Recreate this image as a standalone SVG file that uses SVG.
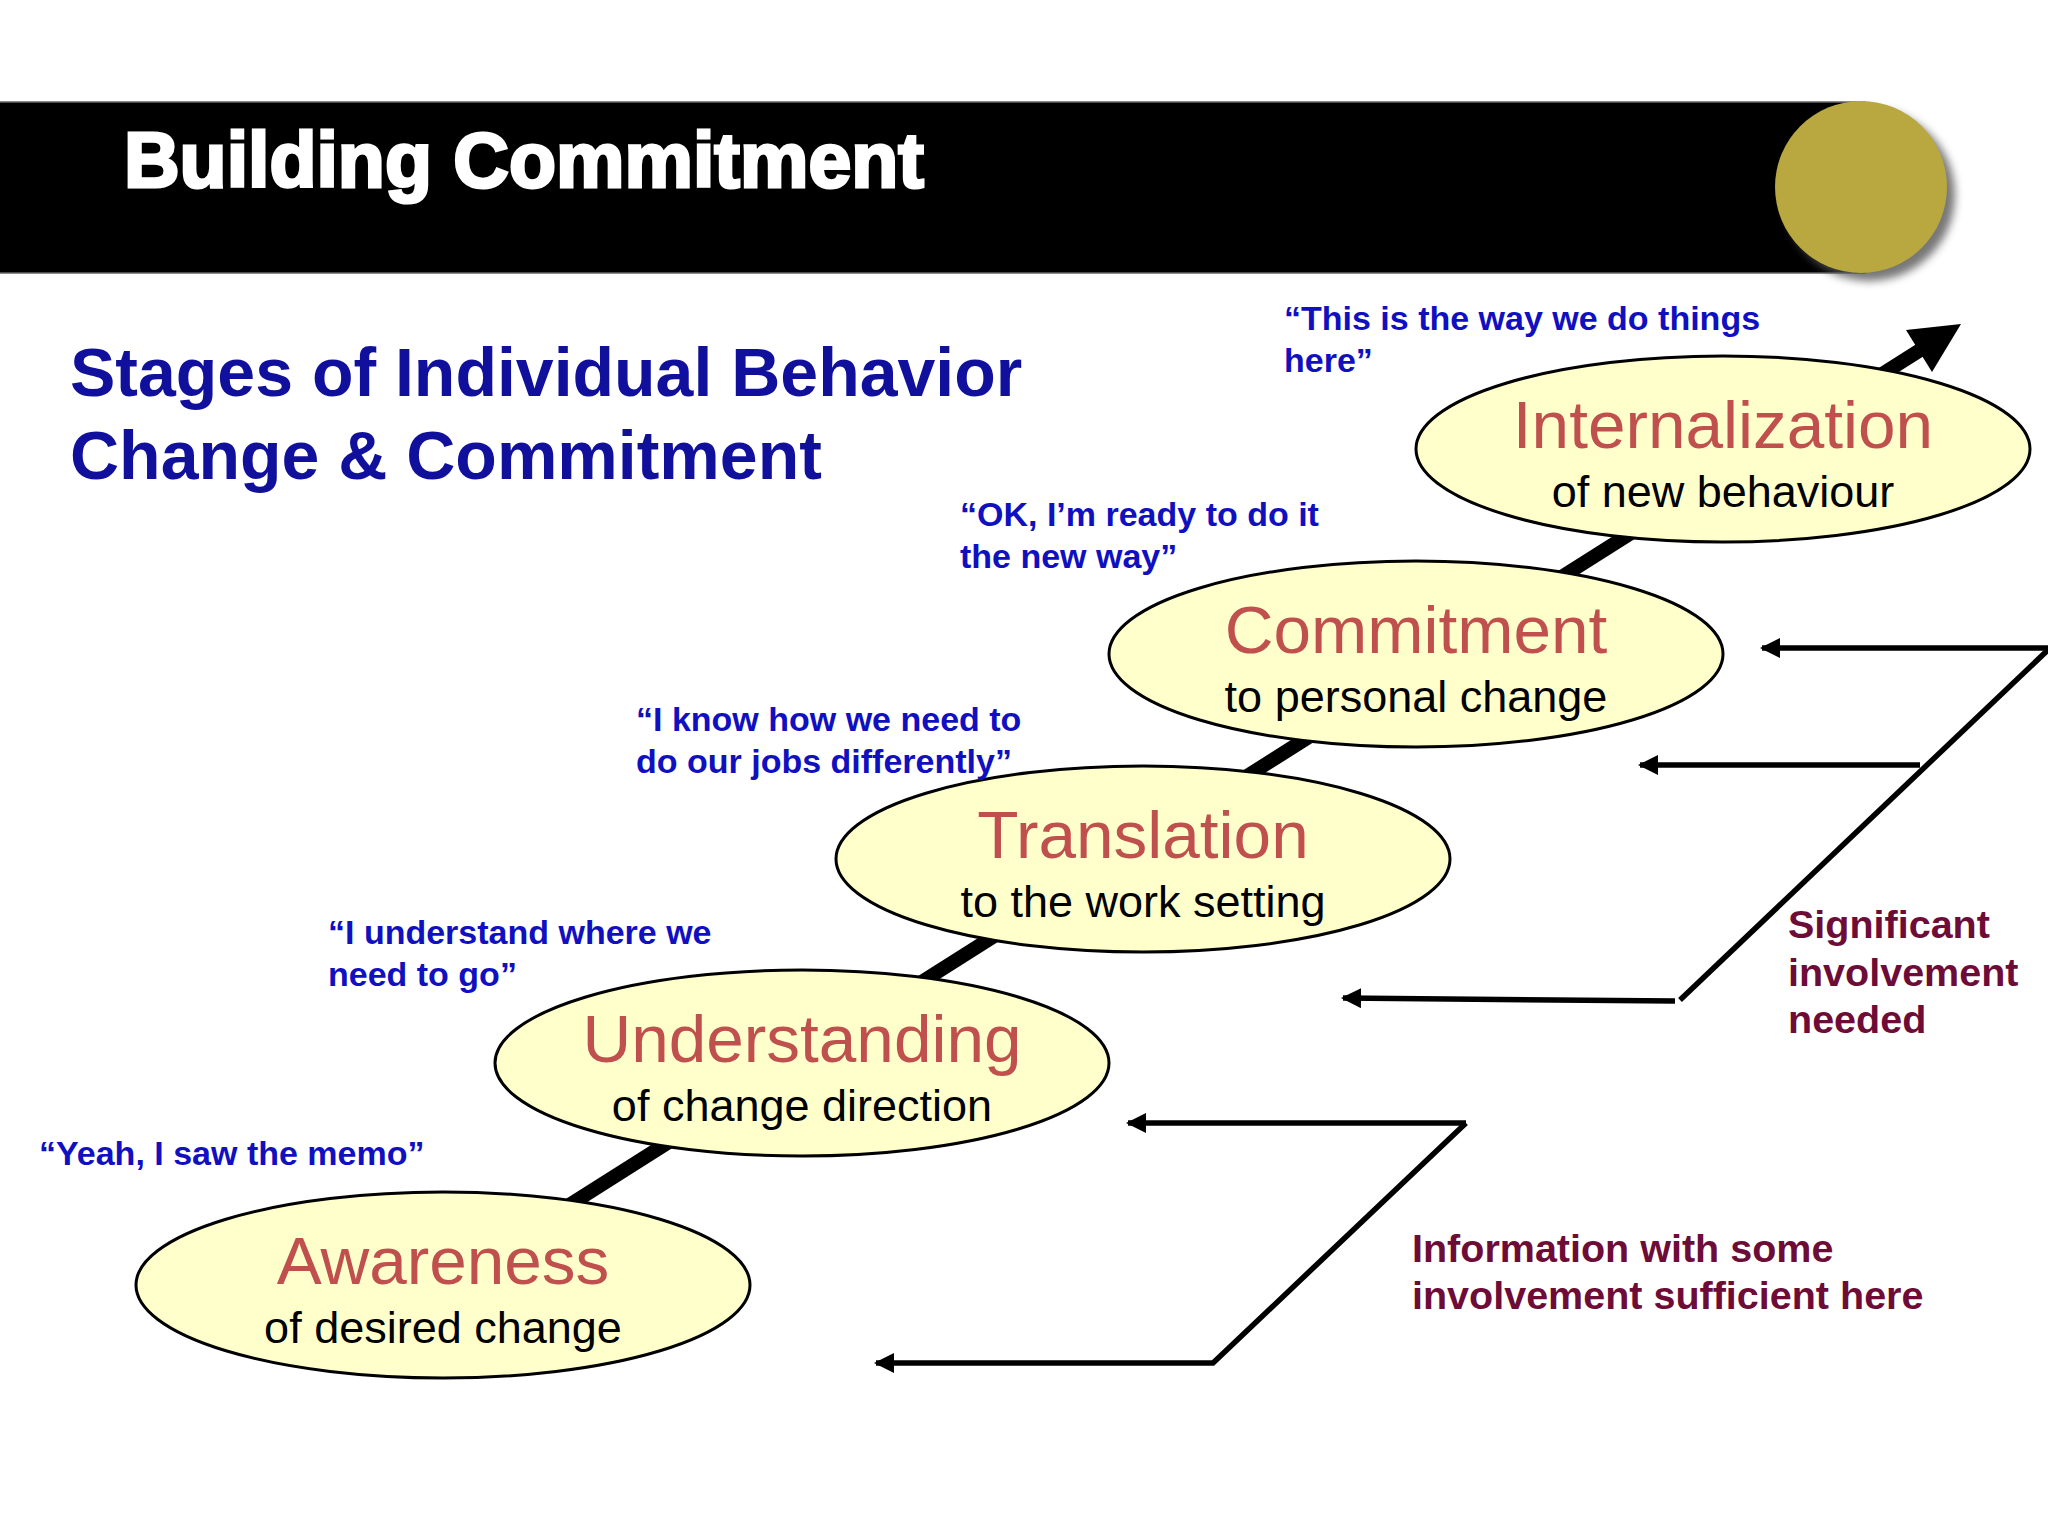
<svg xmlns="http://www.w3.org/2000/svg" width="2048" height="1536" viewBox="0 0 2048 1536">
<defs>
<style>
.stage{fill:#FFFFCC;stroke:#000;stroke-width:3}
.ttl{font-family:"Liberation Sans",Arial,sans-serif;font-size:67.5px;fill:#C0504D;text-anchor:middle}
.sub{font-family:"Liberation Sans",Arial,sans-serif;font-size:45px;fill:#000;text-anchor:middle}
.quote{font-family:"Liberation Sans",Arial,sans-serif;font-size:34px;font-weight:bold;fill:#1010C0}
.note{font-family:"Liberation Sans",Arial,sans-serif;font-size:39.5px;font-weight:bold;fill:#6E0C38}
.conn{fill:none;stroke:#000;stroke-width:5.5}
</style>
<marker id="ah" viewBox="0 0 20 20" refX="18" refY="10" markerWidth="20" markerHeight="20" markerUnits="userSpaceOnUse" orient="auto">
<path d="M0,0 L20,10 L0,20 Z" fill="#000"/>
</marker>
<filter id="sh" x="-20%" y="-20%" width="150%" height="150%">
<feGaussianBlur stdDeviation="4"/>
</filter>
</defs>
<rect width="2048" height="1536" fill="#fff"/>
<g id="header">
<rect x="-5" y="102" width="1870" height="171" fill="#000" stroke="#666" stroke-width="1.5"/>
<circle cx="1869" cy="195" r="86" fill="#555" filter="url(#sh)" opacity="0.8"/>
<circle cx="1861" cy="187" r="86" fill="#B9A73F"/>
<text x="124" y="187" font-family="'Liberation Sans',Arial,sans-serif" font-size="77" font-weight="bold" fill="#fff" stroke="#fff" stroke-width="3">Building Commitment</text>
</g>
<g id="heading" font-family="'Liberation Sans',Arial,sans-serif" font-size="68" font-weight="bold" fill="#10109C">
<text x="70" y="396">Stages of Individual Behavior</text>
<text x="70" y="479">Change &amp; Commitment</text>
</g>
<g id="connectors">
<line x1="443" y1="1285" x2="1925" y2="347" stroke="#000" stroke-width="14"/>
<polygon points="1961,324 1906,330 1932,372" fill="#000"/>
<polyline class="conn" points="1466,1123 1213,1363 876,1363" marker-end="url(#ah)"/>
<line class="conn" x1="1466" y1="1123" x2="1128" y2="1123" marker-end="url(#ah)"/>
<polyline class="conn" points="2050,648 1680,1000"/>
<line class="conn" x1="2050" y1="648" x2="1762" y2="648" marker-end="url(#ah)"/>
<line class="conn" x1="1920" y1="765" x2="1640" y2="765" marker-end="url(#ah)"/>
<line class="conn" x1="1675" y1="1001" x2="1343" y2="998" marker-end="url(#ah)"/>
</g>
<g id="awareness">
<ellipse class="stage" cx="443" cy="1285" rx="307" ry="93"/>
<text class="ttl" x="443" y="1284">Awareness</text>
<text class="sub" x="443" y="1343">of desired change</text>
</g>
<g id="understanding">
<ellipse class="stage" cx="802" cy="1063" rx="307" ry="93"/>
<text class="ttl" x="802" y="1062">Understanding</text>
<text class="sub" x="802" y="1121">of change direction</text>
</g>
<g id="translation">
<ellipse class="stage" cx="1143" cy="859" rx="307" ry="93"/>
<text class="ttl" x="1143" y="858">Translation</text>
<text class="sub" x="1143" y="917">to the work setting</text>
</g>
<g id="commitment">
<ellipse class="stage" cx="1416" cy="654" rx="307" ry="93"/>
<text class="ttl" x="1416" y="653">Commitment</text>
<text class="sub" x="1416" y="712">to personal change</text>
</g>
<g id="internalization">
<ellipse class="stage" cx="1723" cy="449" rx="307" ry="93"/>
<text class="ttl" x="1723" y="448">Internalization</text>
<text class="sub" x="1723" y="507">of new behaviour</text>
</g>
<g id="quotes">
<text class="quote" x="39" y="1165">“Yeah, I saw the memo”</text>
<text class="quote" x="328" y="944">“I understand where we</text>
<text class="quote" x="328" y="986">need to go”</text>
<text class="quote" x="636" y="731">“I know how we need to</text>
<text class="quote" x="636" y="773">do our jobs differently”</text>
<text class="quote" x="960" y="526">“OK, I’m ready to do it</text>
<text class="quote" x="960" y="568">the new way”</text>
<text class="quote" x="1284" y="330">“This is the way we do things</text>
<text class="quote" x="1284" y="372">here”</text>
</g>
<g id="notes">
<text class="note" x="1788" y="938">Significant</text>
<text class="note" x="1788" y="986">involvement</text>
<text class="note" x="1788" y="1033">needed</text>
<text class="note" x="1412" y="1262">Information with some</text>
<text class="note" x="1412" y="1309">involvement sufficient here</text>
</g>
</svg>
